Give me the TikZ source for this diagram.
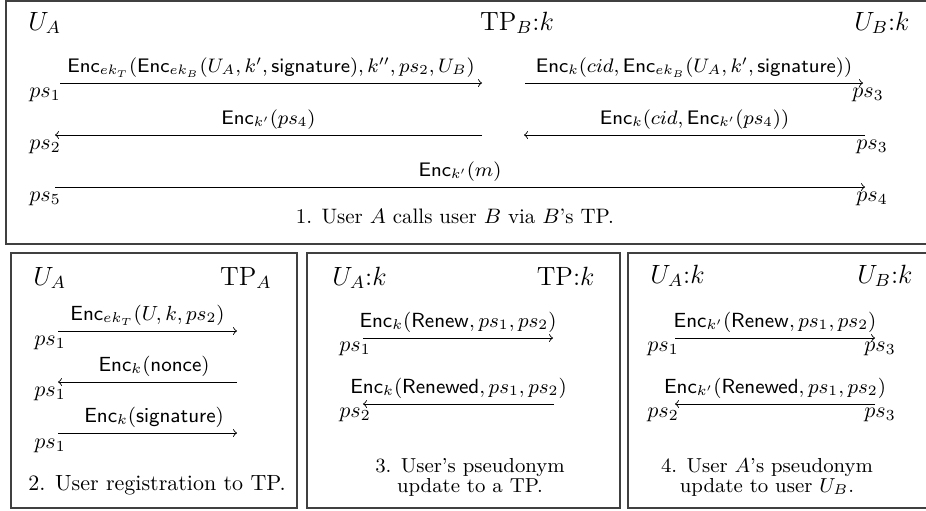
\RequirePackage{fix-cm}
\documentclass[tikz,border=0pt]{standalone}
\usepackage{amsmath}
\newcommand{\Enc}{\mathsf{Enc}}
\newcommand{\sfw}[1]{\mathsf{#1}}
\begin{document}
\begin{tikzpicture}[x=0.4545pt, y=-0.4545pt,
  frame/.style={draw=black!75, line width=0.6pt},
  msg/.style={->, line width=0.4pt},
  lab/.style={midway, anchor=base, yshift=5pt, inner sep=0pt, font=\fontsize{9.3}{11}\selectfont},
  biglab/.style={lab, font=\fontsize{8.9}{11}\selectfont},
  head/.style={inner sep=0pt, font=\fontsize{12}{14}\selectfont},
  psn/.style={anchor=base, inner sep=0pt, font=\fontsize{10}{12}\selectfont},
  capn/.style={anchor=base, inner sep=0pt, font=\fontsize{10}{12}\selectfont},
  smallcap/.style={capn, font=\fontsize{9.2}{11}\selectfont}]
\useasboundingbox (0,0) rectangle (926,510);
\clip (0,0) rectangle (926,510);

% ---------------- frames
\draw[frame] (6,1) rectangle (945,244);
\draw[frame] (11,253) rectangle (297,508);
\draw[frame] (307,253) rectangle (620,508);
\draw[frame] (628,253) rectangle (945,508);

% ---------------- box 1
\node[head, anchor=base west] (ua1) at (28,30) {$U_A$};
\node[head, anchor=base] (tpb1) at (517,30) {$\mathrm{TP}_B{:}k$};
\node[head, anchor=base east] (ub1) at (910,30) {$U_B{:}k$};

\coordinate (r1a) at (60,83);  \coordinate (r1b) at (482,83);
\coordinate (r1c) at (525,83); \coordinate (r1d) at (863,83);
\coordinate (r2a) at (482,135); \coordinate (r2b) at (55,135);
\coordinate (r2c) at (865,135); \coordinate (r2d) at (524,135);
\coordinate (r3a) at (55,187);  \coordinate (r3b) at (865,187);

\draw[msg] (r1a) -- (r1b) node[biglab] {$\Enc_{ek_T}(\Enc_{ek_B}(U_A, k', \sfw{signature}), k'', ps_2, U_B)$};
\draw[msg] (r1c) -- (r1d) node[biglab] {$\Enc_k(cid, \Enc_{ek_B}(U_A, k', \sfw{signature}))$};
\draw[msg] (r2a) -- (r2b) node[biglab] {$\Enc_{k'}(ps_4)$};
\draw[msg] (r2c) -- (r2d) node[biglab] {$\Enc_k(cid, \Enc_{k'}(ps_4))$};
\draw[msg] (r3a) -- (r3b) node[biglab] {$\Enc_{k'}(m)$};

\node[psn] (p11) at (45,97) {$ps_1$};
\node[psn] (p13) at (868,97) {$ps_3$};
\node[psn] (p12) at (45,149) {$ps_2$};
\node[psn] (p23) at (872,149) {$ps_3$};
\node[psn] (p15) at (45,201) {$ps_5$};
\node[psn] (p14) at (872,201) {$ps_4$};

\node[capn, font=\fontsize{9.5}{11.5}\selectfont] (cap1) at (455,223) {1. User $A$ calls user $B$ via $B$'s TP.};

% ---------------- box 2
\node[head, anchor=base west] (ua2) at (33,285) {$U_A$};
\node[head, anchor=base east] (tpa2) at (272,285) {$\mathrm{TP}_A$};

\coordinate (b2a) at (58,331);  \coordinate (b2b) at (237,331);
\coordinate (b2c) at (237,382); \coordinate (b2d) at (58,382);
\coordinate (b2e) at (58,433);  \coordinate (b2f) at (237,433);

\draw[msg] (b2a) -- (b2b) node[lab] {$\Enc_{ek_T}(U, k, ps_2)$};
\draw[msg] (b2c) -- (b2d) node[lab, xshift=3pt] {$\Enc_k(\sfw{nonce})$};
\draw[msg] (b2e) -- (b2f) node[lab, xshift=3pt] {$\Enc_k(\sfw{signature})$};

\node[psn] (q1) at (50,345) {$ps_1$};
\node[psn] (q2) at (50,396) {$ps_1$};
\node[psn] (q3) at (50,448) {$ps_1$};

\node[capn] (cap2) at (157,490) {2. User registration to TP.};

% ---------------- box 3
\node[head, anchor=base west] (ua3) at (332,285) {$U_A{:}k$};
\node[head, anchor=base east] (tp3) at (595,285) {$\mathrm{TP}{:}k$};

\coordinate (b3a) at (363,338); \coordinate (b3b) at (553,338);
\coordinate (b3c) at (554,404); \coordinate (b3d) at (363,404);

\draw[msg] (b3a) -- (b3b) node[lab] {$\Enc_k(\sfw{Renew}, ps_1, ps_2)$};
\draw[msg] (b3c) -- (b3d) node[lab] {$\Enc_k(\sfw{Renewed}, ps_1, ps_2)$};

\node[psn] (s1) at (355,351) {$ps_1$};
\node[psn] (s2) at (355,417) {$ps_2$};

\node[smallcap] (cap3a) at (470,472) {3. User's pseudonym};
\node[smallcap] (cap3b) at (470,492) {update to a TP.};

% ---------------- box 4
\node[head, anchor=base west] (ua4) at (650,283) {$U_A{:}k$};
\node[head, anchor=base east] (ub4) at (913,283) {$U_B{:}k$};

\coordinate (b4a) at (675,338); \coordinate (b4b) at (875,338);
\coordinate (b4c) at (875,404); \coordinate (b4d) at (675,404);

\draw[msg] (b4a) -- (b4b) node[lab] {$\Enc_{k'}(\sfw{Renew}, ps_1, ps_2)$};
\draw[msg] (b4c) -- (b4d) node[lab] {$\Enc_{k'}(\sfw{Renewed}, ps_1, ps_2)$};

\node[psn] (t1) at (663,351) {$ps_1$};
\node[psn] (t3) at (880,351) {$ps_3$};
\node[psn] (t2) at (663,417) {$ps_2$};
\node[psn] (t4) at (880,417) {$ps_3$};

\node[smallcap] (cap4a) at (767,472) {4. User $A$'s pseudonym};
\node[smallcap] (cap4b) at (767,492) {update to user $U_B$.};
\end{tikzpicture}
\end{document}
